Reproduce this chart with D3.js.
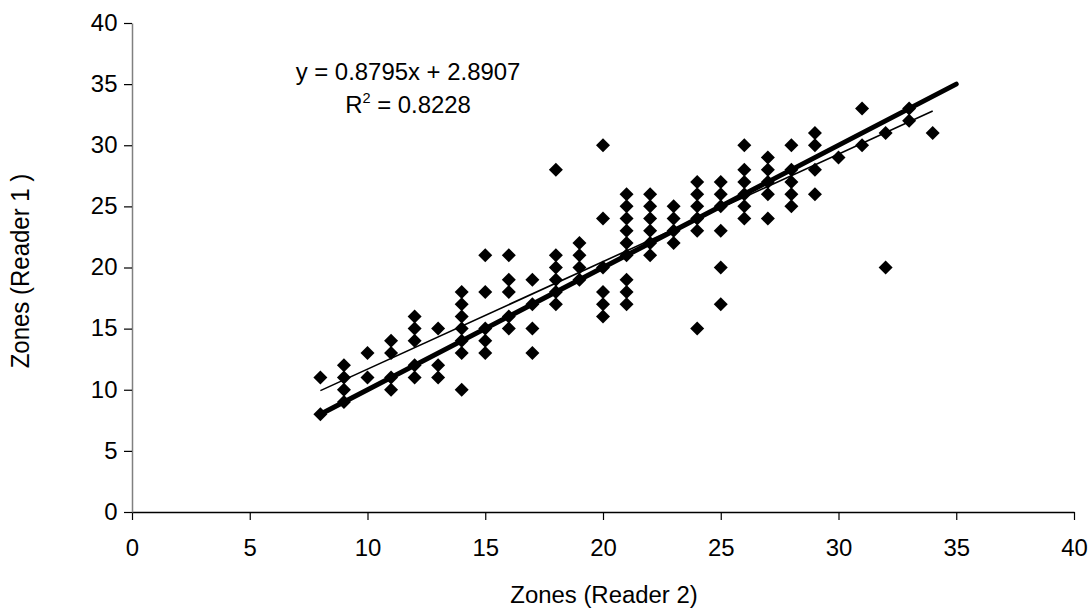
<!DOCTYPE html>
<html>
<head>
<meta charset="utf-8">
<script src="https://cdn.jsdelivr.net/npm/d3@7"></script>
<style>
  body { margin: 0; background: #fff; }
  svg { display: block; font-family: Arial, "Liberation Sans", sans-serif; }
</style>
</head>
<body>
<svg id="chart" width="1092" height="613"></svg>
<script>
// Reader 2 zone (x) and the Reader 1 zones recorded for it (y)
const reader2 = [8, 9, 10, 11, 12, 13, 14, 15, 16, 17, 18, 19, 20, 21, 22, 23, 24, 25, 26, 27, 28, 29, 30, 31, 32, 33, 34];
const reader1 = [
  [11, 8],
  [12, 11, 10, 9],
  [13, 11],
  [14, 13, 11, 10],
  [16, 15, 14, 12, 11],
  [15, 12, 11],
  [18, 17, 16, 15, 14, 13, 10],
  [21, 18, 15, 14, 13],
  [21, 19, 18, 16, 15],
  [19, 17, 15, 13],
  [28, 21, 20, 19, 18, 17],
  [22, 21, 20, 19],
  [30, 24, 20, 18, 17, 16],
  [26, 25, 24, 23, 22, 21, 19, 18, 17],
  [26, 25, 24, 23, 22, 21],
  [25, 24, 23, 22],
  [27, 26, 25, 24, 23, 15],
  [27, 26, 25, 23, 20, 17],
  [30, 28, 27, 26, 25, 24],
  [29, 28, 27, 26, 24],
  [30, 28, 27, 26, 25],
  [31, 30, 28, 26],
  [29],
  [33, 30],
  [31, 20],
  [33, 32],
  [31]
];

// 1:1 line and the linear trend line
const identityX = [8, 35];
const trendX = [8, 34];
const slope = 0.8795, intercept = 2.8907, rSquared = 0.8228;

const xTicks = [0, 5, 10, 15, 20, 25, 30, 35, 40];
const yTicks = [0, 5, 10, 15, 20, 25, 30, 35, 40];

let points = [];
reader2.forEach(function(x, i) {
  reader1[i].forEach(function(y) { points.push({x: x, y: y}); });
});

const svg = d3.select("#chart");
const stretch = 1.04; // the picture's text is a bit wide

let x = d3.scaleLinear().domain([0, 40]).range([132, 1074]);
let y = d3.scaleLinear().domain([0, 40]).range([512, 23]);

// axes
let xAxis = svg.append("g")
  .attr("transform", "translate(0,512)")
  .call(d3.axisBottom(x).tickValues(xTicks).tickSize(8).tickSizeOuter(0).tickPadding(20));
let yAxis = svg.append("g")
  .attr("transform", "translate(132,0)")
  .call(d3.axisLeft(y).tickValues(yTicks).tickSize(8).tickSizeOuter(0).tickPadding(6));

xAxis.select(".domain").attr("stroke", "#000").attr("stroke-width", 1.3);
yAxis.select(".domain").attr("stroke", "#808080").attr("stroke-width", 1.5);
svg.selectAll(".tick line").attr("stroke", "#000").attr("stroke-width", 1.2);
svg.selectAll(".tick text")
  .attr("font-size", 23)
  .attr("fill", "#000")
  .attr("font-family", "Arial, 'Liberation Sans', sans-serif")
  .attr("transform", "scale(" + stretch + ",1)");

// points
svg.append("g").selectAll("path")
  .data(points)
  .join("path")
  .attr("d", d3.symbol(d3.symbolSquare, 98))
  .attr("transform", function(d) { return "translate(" + x(d.x) + "," + y(d.y) + ") rotate(45)"; })
  .attr("fill", "#000");

let line = d3.line()
  .x(function(d) { return x(d[0]); })
  .y(function(d) { return y(d[1]); });

// thick 1:1 line
svg.append("path")
  .attr("d", line(identityX.map(function(v) { return [v, v]; })))
  .attr("stroke", "#000")
  .attr("stroke-width", 5)
  .attr("stroke-linecap", "round")
  .attr("fill", "none");

// thin trend line
svg.append("path")
  .attr("d", line(trendX.map(function(v) { return [v, slope * v + intercept]; })))
  .attr("stroke", "#000")
  .attr("stroke-width", 1.6)
  .attr("fill", "none");

// equation
let eq = svg.append("g").attr("transform", "translate(408,0) scale(" + stretch + ",1)")
  .attr("font-size", 23).attr("text-anchor", "middle").attr("fill", "#000");
eq.append("text").attr("y", 80).text("y = " + slope + "x + " + intercept);
let r2 = eq.append("text").attr("y", 113);
r2.append("tspan").text("R");
r2.append("tspan").attr("font-size", 14).attr("dy", -10).text("2");
r2.append("tspan").attr("dy", 10).text(" = " + rSquared);

// axis titles
svg.append("text")
  .attr("transform", "translate(604,603) scale(" + stretch + ",1)")
  .attr("text-anchor", "middle").attr("font-size", 23)
  .text("Zones  (Reader 2)");
svg.append("text")
  .attr("transform", "translate(29,271) rotate(-90) scale(1," + stretch + ")")
  .attr("text-anchor", "middle").attr("font-size", 24)
  .text("Zones  (Reader 1 )");
</script>
</body>
</html>
